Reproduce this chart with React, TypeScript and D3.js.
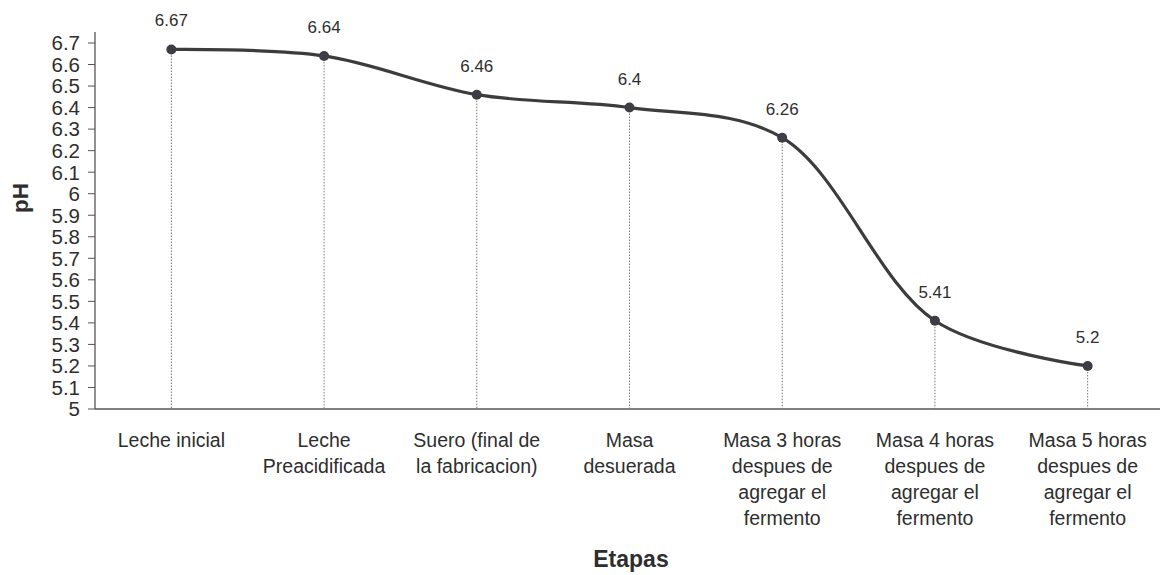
import React from "react";
import * as d3 from "d3";

const categories: string[][] = [
  ["Leche inicial"],
  ["Leche", "Preacidificada"],
  ["Suero (final de", "la fabricacion)"],
  ["Masa", "desuerada"],
  ["Masa 3 horas", "despues de", "agregar el", "fermento"],
  ["Masa 4 horas", "despues de", "agregar el", "fermento"],
  ["Masa 5 horas", "despues de", "agregar el", "fermento"],
];
const phValues: number[] = [6.67, 6.64, 6.46, 6.4, 6.26, 5.41, 5.2];
const yTicks: number[] = d3.range(0, 18).map((i) => +(5 + i * 0.1).toFixed(1));

const W = 1160;
const H = 575;
const left = 95;
const plotRight = 1164;
const yTop = 43;
const yBottom = 409;
const font = "Arial, 'Liberation Sans', sans-serif";
const textColor = "#2e2e2e";

export default function App() {
  const keys = categories.map((_, i) => String(i));
  const x = d3.scaleBand<string>().domain(keys).range([left, plotRight]).padding(0);
  const y = d3.scaleLinear().domain([5, 6.7]).range([yBottom, yTop]);
  const cx = (i: number) => (x(String(i)) as number) + x.bandwidth() / 2;

  const line = d3
    .line<number>()
    .x((_, i) => cx(i))
    .y((d) => y(d))
    .curve(d3.curveCatmullRom.alpha(0.5));

  return (
    <svg
      width={W}
      height={H}
      style={{ position: "absolute", left: 0, top: 0, background: "#fff" }}
      fontFamily={font}
    >
      {/* axes */}
      <line x1={left} x2={left} y1={32} y2={yBottom} stroke="#555" strokeWidth={1.3} />
      <line x1={left} x2={W} y1={yBottom} y2={yBottom} stroke="#555" strokeWidth={1.3} />
      {yTicks.map((t) => (
        <g key={t}>
          <line x1={left - 7} x2={left} y1={y(t)} y2={y(t)} stroke="#555" strokeWidth={1} />
          <text
            x={left - 15}
            y={y(t)}
            dy="0.36em"
            textAnchor="end"
            fontSize={20.5}
            fill={textColor}
          >
            {String(t)}
          </text>
        </g>
      ))}
      {/* drop lines */}
      {phValues.map((v, i) => (
        <line
          key={"d" + i}
          x1={cx(i)}
          x2={cx(i)}
          y1={y(v)}
          y2={yBottom}
          stroke="#777"
          strokeWidth={1}
          strokeDasharray="1.5,1.5"
        />
      ))}
      <path d={line(phValues) || ""} fill="none" stroke="#3c3c3f" strokeWidth={3.2} />
      {phValues.map((v, i) => (
        <g key={"p" + i}>
          <circle cx={cx(i)} cy={y(v)} r={5} fill="#3d3d45" />
          <text x={cx(i)} y={y(v) - 23} textAnchor="middle" fontSize={17} fill={textColor}>
            {String(v)}
          </text>
        </g>
      ))}
      {/* category labels */}
      {categories.map((lines, i) => (
        <text key={"c" + i} textAnchor="middle" fontSize={19.5} fill={textColor}>
          {lines.map((l, j) => (
            <tspan key={j} x={cx(i)} y={447 + j * 26}>
              {l}
            </tspan>
          ))}
        </text>
      ))}
      <text x={631} y={567} textAnchor="middle" fontSize={23} fontWeight="bold" fill={textColor}>
        Etapas
      </text>
      <text
        transform={`translate(28,198) rotate(-90)`}
        textAnchor="middle"
        fontSize={22.5}
        fontWeight="bold"
        fill={textColor}
      >
        pH
      </text>
    </svg>
  );
}
